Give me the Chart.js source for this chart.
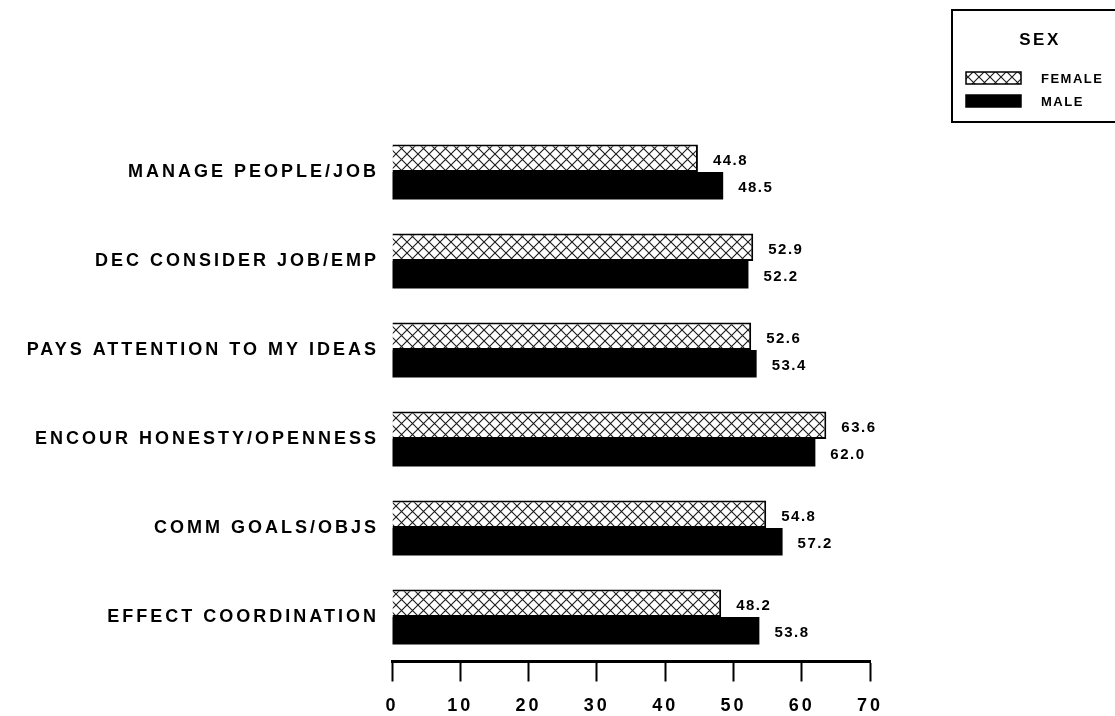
<!DOCTYPE html>
<html>
<head>
<meta charset="utf-8">
<script src="https://cdn.jsdelivr.net/npm/chart.js@4/dist/chart.umd.min.js"></script>
<style>
html,body{margin:0;padding:0;background:#fff;}
#wrap{width:1115px;height:716px;}
</style>
</head>
<body>
<div id="wrap"><canvas id="c" width="1115" height="716"></canvas></div>
<script>
const categories = ["MANAGE PEOPLE/JOB","DEC CONSIDER JOB/EMP","PAYS ATTENTION TO MY IDEAS","ENCOUR HONESTY/OPENNESS","COMM GOALS/OBJS","EFFECT COORDINATION"];
const femaleValues = [44.8, 52.9, 52.6, 63.6, 54.8, 48.2];
const maleValues = [48.5, 52.2, 53.4, 62.0, 57.2, 53.8];
const seriesNames = ["FEMALE","MALE"];
const legendTitle = "SEX";
const xTicks = [0,10,20,30,40,50,60,70];

function makeHatch(){
  const s = 11;
  const c = document.createElement('canvas');
  c.width = s; c.height = s;
  const g = c.getContext('2d');
  g.fillStyle = '#fff'; g.fillRect(0,0,s,s);
  g.strokeStyle = '#1a1a1a'; g.lineWidth = 1.1;
  g.beginPath();
  g.moveTo(-1,-1); g.lineTo(s+1,s+1);
  g.moveTo(-1,s+1); g.lineTo(s+1,-1);
  g.stroke();
  return document.getElementById('c').getContext('2d').createPattern(c,'repeat');
}
const hatch = makeHatch();
const FONT = "'Liberation Sans', Arial, sans-serif";

const spacingPlugin = {
  id: 'spacing',
  beforeDraw(chart){ chart.ctx.letterSpacing = '3px'; }
};

const valueLabels = {
  id: 'valueLabels',
  afterDatasetsDraw(chart){
    const ctx = chart.ctx;
    ctx.save();
    ctx.letterSpacing = '1.5px';
    ctx.font = "bold 15px " + FONT;
    ctx.fillStyle = '#000';
    ctx.textAlign = 'left';
    ctx.textBaseline = 'middle';
    chart.data.datasets.forEach((ds, di) => {
      chart.getDatasetMeta(di).data.forEach((bar, i) => {
        ctx.fillText(ds.data[i].toFixed(1), bar.x + 15, bar.y + 2.5);
      });
    });
    ctx.restore();
  }
};

const boxLegend = {
  id: 'boxLegend',
  afterDraw(chart){
    const ctx = chart.ctx;
    ctx.save();
    ctx.strokeStyle = '#000';
    ctx.lineWidth = 2;
    ctx.strokeRect(952, 10, 180, 112);
    ctx.fillStyle = '#000';
    ctx.letterSpacing = '2.5px';
    ctx.font = "bold 17px " + FONT;
    ctx.textAlign = 'center';
    ctx.textBaseline = 'middle';
    ctx.fillText(legendTitle, 1040, 40);
    ctx.letterSpacing = '1.5px';
    ctx.font = "bold 13px " + FONT;
    ctx.textAlign = 'left';
    const rows = [72, 95];
    chart.data.datasets.forEach((ds, di) => {
      const y = rows[di];
      ctx.fillStyle = ds.backgroundColor;
      ctx.fillRect(966, y, 55, 12);
      ctx.strokeStyle = '#000';
      ctx.lineWidth = 1.5;
      ctx.strokeRect(966, y, 55, 12);
      ctx.fillStyle = '#000';
      ctx.fillText(ds.label, 1041, y + 7);
    });
    ctx.restore();
  }
};

new Chart(document.getElementById('c'), {
  type: 'bar',
  data: {
    labels: categories,
    datasets: [
      { label: seriesNames[0], data: femaleValues, backgroundColor: hatch, borderColor: '#000', borderWidth: 2 },
      { label: seriesNames[1], data: maleValues, backgroundColor: '#000', borderColor: '#000', borderWidth: 0 }
    ]
  },
  options: {
    indexAxis: 'y',
    responsive: false,
    animation: false,
    devicePixelRatio: 1,
    layout: { padding: { top: 127.5, right: 245, bottom: 0, left: 0 } },
    datasets: { bar: { barPercentage: 1.0, categoryPercentage: 0.62 } },
    plugins: { legend: { display: false }, tooltip: { enabled: false } },
    scales: {
      x: {
        type: 'linear', min: 0, max: 70,
        afterBuildTicks(s){ s.ticks = xTicks.map(v => ({ value: v })); },
        afterFit(s){ s.height = 54.5; },
        border: { display: true, color: '#000', width: 3 },
        grid: { display: true, drawOnChartArea: false, drawTicks: true, tickLength: 20, tickWidth: 2, tickColor: '#000' },
        ticks: { color: '#000', font: { family: FONT, weight: 'bold', size: 18 }, padding: 14, maxRotation: 0, autoSkip: false }
      },
      y: {
        afterFit(s){ s.width = 392; },
        border: { display: false },
        grid: { display: false },
        ticks: { color: '#000', font: { family: FONT, weight: 'bold', size: 18 }, padding: 5, autoSkip: false }
      }
    }
  },
  plugins: [spacingPlugin, valueLabels, boxLegend]
});
</script>
</body>
</html>
